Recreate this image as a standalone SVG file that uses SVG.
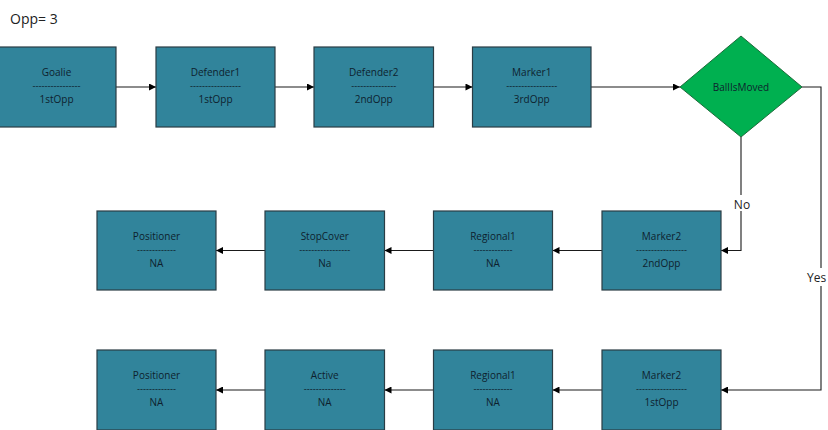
<svg xmlns="http://www.w3.org/2000/svg" width="828" height="430" viewBox="0 0 828 430">
<defs>
<style>
.box{fill:#31849b;stroke:#2a3d45;stroke-width:1.2}
.dia{fill:#00b050;stroke:#1d6b3a;stroke-width:1}
.t{font-family:"Open Sans","Liberation Sans",sans-serif;font-size:10px;fill:#0e1f2e;text-anchor:middle}
.d{font-family:"Liberation Sans",sans-serif;font-size:9px;fill:#0e1f2e;text-anchor:middle}
.lbl{font-family:"Open Sans","Liberation Sans",sans-serif;font-size:12px;fill:#222}
.c{fill:none;stroke:#1a1a1a;stroke-width:1.1}
</style>
<marker id="ah" viewBox="0 0 10 10" refX="10" refY="5" markerWidth="8" markerHeight="7" markerUnits="userSpaceOnUse" orient="auto">
<path d="M0,0 L10,5 L0,10 z" fill="#000"/>
</marker>
</defs>
<rect width="828" height="430" fill="#fff"/>
<text x="10" y="24" font-family="Open Sans, Liberation Sans, sans-serif" font-size="14" fill="#222">Opp= 3</text>

<g id="connectors">
<path class="c" d="M116,87 H156" marker-end="url(#ah)"/>
<path class="c" d="M275,87 H314" marker-end="url(#ah)"/>
<path class="c" d="M433.5,87 H472.5" marker-end="url(#ah)"/>
<path class="c" d="M591,87 H680" marker-end="url(#ah)"/>
<path class="c" d="M741,137 V250.5 H721" marker-end="url(#ah)"/>
<path class="c" d="M802,87 H821 V390 H721" marker-end="url(#ah)"/>
<path class="c" d="M602,250.5 H552.5" marker-end="url(#ah)"/>
<path class="c" d="M433.5,250.5 H384.5" marker-end="url(#ah)"/>
<path class="c" d="M265,250.5 H216" marker-end="url(#ah)"/>
<path class="c" d="M602,390 H552.5" marker-end="url(#ah)"/>
<path class="c" d="M433.5,390 H384.5" marker-end="url(#ah)"/>
<path class="c" d="M265,390 H216" marker-end="url(#ah)"/>
<rect x="732" y="195" width="20" height="16" fill="#fff"/>
<text class="lbl" x="742" y="208.5" text-anchor="middle">No</text>
<rect x="806" y="268" width="22" height="18" fill="#fff"/>
<text class="lbl" x="807" y="281.5">Yes</text>
</g>

<g id="goalie">
<rect class="box" x="-3" y="47" width="119" height="80"/>
<text class="t" x="56.5" y="76">Goalie</text>
<text class="d" x="56.5" y="89">----------------</text>
<text class="t" x="56.5" y="103">1stOpp</text>
</g>
<g id="defender1">
<rect class="box" x="156" y="47" width="119" height="80"/>
<text class="t" x="215.5" y="76">Defender1</text>
<text class="d" x="215.5" y="89">-----------------</text>
<text class="t" x="215.5" y="103">1stOpp</text>
</g>
<g id="defender2">
<rect class="box" x="314" y="47" width="119.5" height="80"/>
<text class="t" x="373.75" y="76">Defender2</text>
<text class="d" x="373.75" y="89">---------------</text>
<text class="t" x="373.75" y="103">2ndOpp</text>
</g>
<g id="marker1">
<rect class="box" x="472.5" y="47" width="118.5" height="80"/>
<text class="t" x="531.75" y="76">Marker1</text>
<text class="d" x="531.75" y="89">-----------------</text>
<text class="t" x="531.75" y="103">3rdOpp</text>
</g>
<g id="ballismoved">
<polygon class="dia" points="741,36 802,87 741,137 680,87"/>
<text class="t" x="741" y="90.5">BallIsMoved</text>
</g>

<g id="marker2-no">
<rect class="box" x="602" y="211" width="119" height="79"/>
<text class="t" x="661.5" y="240">Marker2</text>
<text class="d" x="661.5" y="253">-----------------</text>
<text class="t" x="661.5" y="267">2ndOpp</text>
</g>
<g id="regional1-no">
<rect class="box" x="433.5" y="211" width="119" height="79"/>
<text class="t" x="493" y="240">Regional1</text>
<text class="d" x="493" y="253">-------------</text>
<text class="t" x="493" y="267">NA</text>
</g>
<g id="stopcover">
<rect class="box" x="265" y="211" width="119.5" height="79"/>
<text class="t" x="324.75" y="240">StopCover</text>
<text class="d" x="324.75" y="253">-----------------</text>
<text class="t" x="324.75" y="267">Na</text>
</g>
<g id="positioner-no">
<rect class="box" x="97" y="211" width="119" height="79"/>
<text class="t" x="156.5" y="240">Positioner</text>
<text class="d" x="156.5" y="253">-------------</text>
<text class="t" x="156.5" y="267">NA</text>
</g>

<g id="marker2-yes">
<rect class="box" x="602" y="350" width="119" height="80"/>
<text class="t" x="661.5" y="379">Marker2</text>
<text class="d" x="661.5" y="392">-----------------</text>
<text class="t" x="661.5" y="406">1stOpp</text>
</g>
<g id="regional1-yes">
<rect class="box" x="433.5" y="350" width="119" height="80"/>
<text class="t" x="493" y="379">Regional1</text>
<text class="d" x="493" y="392">-------------</text>
<text class="t" x="493" y="406">NA</text>
</g>
<g id="active">
<rect class="box" x="265" y="350" width="119.5" height="80"/>
<text class="t" x="324.75" y="379">Active</text>
<text class="d" x="324.75" y="392">--------------</text>
<text class="t" x="324.75" y="406">NA</text>
</g>
<g id="positioner-yes">
<rect class="box" x="97" y="350" width="119" height="80"/>
<text class="t" x="156.5" y="379">Positioner</text>
<text class="d" x="156.5" y="392">-------------</text>
<text class="t" x="156.5" y="406">NA</text>
</g>
</svg>
